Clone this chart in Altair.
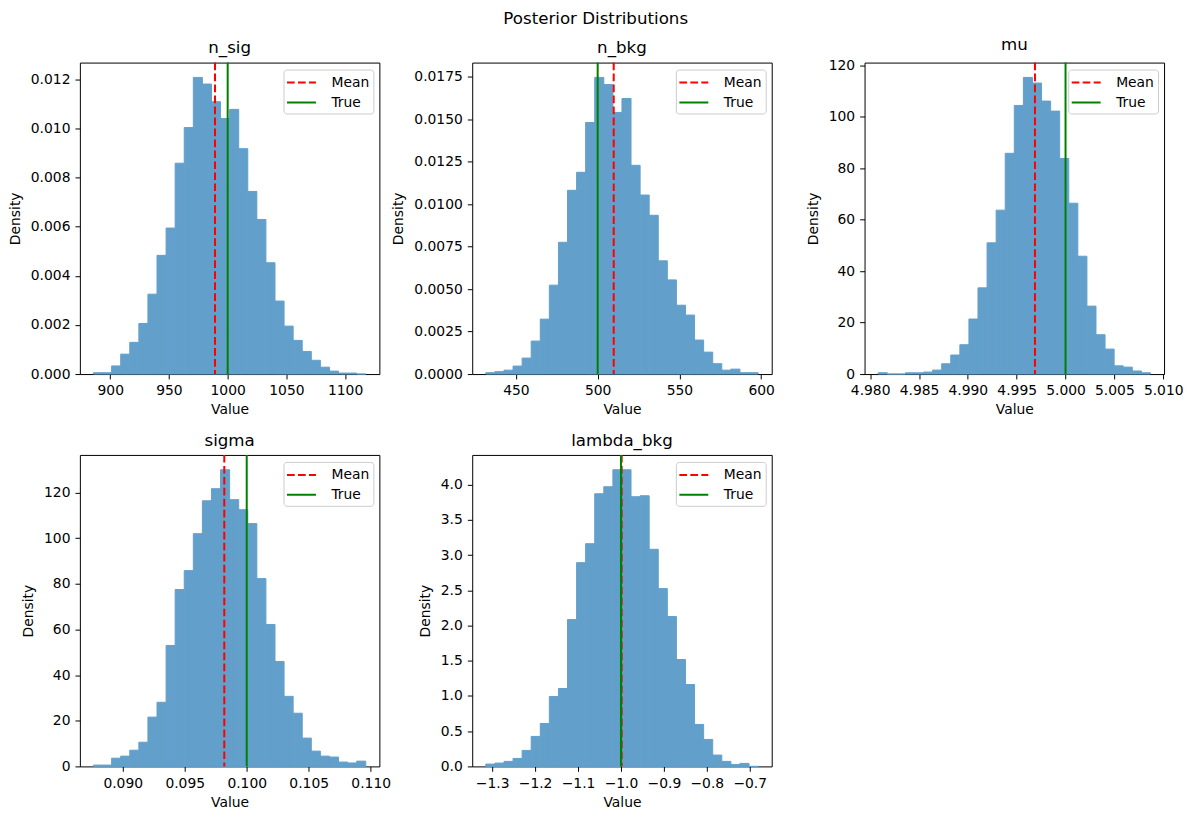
import altair as alt
import pandas as pd

FONT = "DejaVu Sans"
# tab:blue at 70% opacity over a white background
BAR_COLOR = "#62a0cb"

# ---- posterior samples, histogrammed into 30 bins (density) ----
# each parameter: first bin edge, bin width, bin densities, mean, true value

n_sig_start, n_sig_width = 885.7, 7.73
n_sig_density = [0.000054, 0.000054, 0.00033, 0.00081, 0.00129, 0.00206,
                 0.00325, 0.00483, 0.00594, 0.00858, 0.01003, 0.01207,
                 0.0118, 0.01108, 0.0104, 0.01077, 0.00917, 0.00743,
                 0.00629, 0.00453, 0.00297, 0.00195, 0.00137, 0.00092,
                 0.00056, 0.00028, 0.00012, 0.00004, 0.00004, 0.0]
n_sig_mean, n_sig_true = 989.2, 1000.0

n_bkg_start, n_bkg_width = 431.6, 5.55
n_bkg_density = [0.00008, 0.00014, 0.00023, 0.00047, 0.00094, 0.00194,
                 0.00323, 0.00523, 0.00775, 0.01081, 0.01187, 0.0148,
                 0.01745, 0.01703, 0.01539, 0.01621, 0.01228, 0.01053,
                 0.00934, 0.00666, 0.00554, 0.00405, 0.00347, 0.002,
                 0.00129, 0.00061, 0.00023, 0.00029, 0.00008, 0.00008]
n_bkg_mean, n_bkg_true = 509.8, 500.0

mu_start, mu_width = 4.98082, 0.000929
mu_density = [0.52, 0.0, 0.0, 0.5, 0.5, 0.78, 1.55, 4.0, 7.4, 11.4,
              21.4, 33.5, 51.0, 63.7, 85.8, 104.4, 115.3, 113.1, 106.1, 102.2,
              83.8, 66.4, 45.8, 26.4, 15.3, 9.7, 3.2, 2.7, 1.2, 0.5]
mu_mean, mu_true = 4.99687, 5.0

sigma_start, sigma_width = 0.08764, 0.000732
sigma_density = [0.58, 0.58, 3.6, 4.5, 7.1, 10.6, 21.6, 28.1, 53.0, 77.5,
                 85.8, 102.0, 116.4, 121.7, 130.0, 116.9, 112.5, 106.4, 82.3, 62.2,
                 46.0, 30.7, 23.3, 12.4, 6.7, 4.5, 4.1, 1.9, 1.5, 2.3]
sigma_mean, sigma_true = 0.09819, 0.1

lambda_start, lambda_width = -1.3148, 0.02114
lambda_density = [0.033, 0.047, 0.071, 0.113, 0.227, 0.426, 0.610, 0.993, 1.106, 2.085,
                  2.894, 3.163, 3.872, 3.972, 4.213, 4.213, 3.830, 3.844, 3.083, 2.525,
                  2.128, 1.518, 1.163, 0.596, 0.383, 0.161, 0.071, 0.028, 0.043, 0.0]
lambda_mean, lambda_true = -0.9984, -1.0

# ---- axis ticks ----
n_sig_xticks = [900, 950, 1000, 1050, 1100]
n_sig_yticks = [0.0, 0.002, 0.004, 0.006, 0.008, 0.010, 0.012]
n_bkg_xticks = [450, 500, 550, 600]
n_bkg_yticks = [0.0, 0.0025, 0.005, 0.0075, 0.01, 0.0125, 0.015, 0.0175]
mu_xticks = [4.980, 4.985, 4.990, 4.995, 5.000, 5.005, 5.010]
mu_yticks = [0, 20, 40, 60, 80, 100, 120]
sigma_xticks = [0.090, 0.095, 0.100, 0.105, 0.110]
sigma_yticks = [0, 20, 40, 60, 80, 100, 120]
lambda_xticks = [-1.3, -1.2, -1.1, -1.0, -0.9, -0.8, -0.7]
lambda_yticks = [0.0, 0.5, 1.0, 1.5, 2.0, 2.5, 3.0, 3.5, 4.0]

params = [
    ("n_sig", n_sig_start, n_sig_width, n_sig_density, n_sig_mean, n_sig_true,
     n_sig_xticks, "d", n_sig_yticks, ".3f"),
    ("n_bkg", n_bkg_start, n_bkg_width, n_bkg_density, n_bkg_mean, n_bkg_true,
     n_bkg_xticks, "d", n_bkg_yticks, ".4f"),
    ("mu", mu_start, mu_width, mu_density, mu_mean, mu_true,
     mu_xticks, ".3f", mu_yticks, "d"),
    ("sigma", sigma_start, sigma_width, sigma_density, sigma_mean, sigma_true,
     sigma_xticks, ".3f", sigma_yticks, "d"),
    ("lambda_bkg", lambda_start, lambda_width, lambda_density, lambda_mean, lambda_true,
     lambda_xticks, ".1f", lambda_yticks, ".1f"),
]


def posterior_panel(name, start, width, density, mean, true,
                    xticks, xfmt, yticks, yfmt):
    n = len(density)
    lo = [start + i * width for i in range(n)]
    hi = [start + (i + 1) * width for i in range(n)]
    bins = pd.DataFrame({"lo": lo, "hi": hi, "density": density})
    marks = pd.DataFrame({"label": ["Mean", "True"], "value": [mean, true]})

    span = hi[-1] - lo[0]
    x_scale = alt.Scale(domain=[lo[0] - 0.05 * span, hi[-1] + 0.05 * span],
                        nice=False, zero=False)
    y_scale = alt.Scale(domain=[0, 1.05 * max(density)], nice=False)

    hist = alt.Chart(bins).mark_rect(
        fill=BAR_COLOR, stroke=BAR_COLOR, strokeWidth=1
    ).encode(
        x=alt.X("lo:Q", scale=x_scale,
                axis=alt.Axis(values=xticks, format=xfmt, title="Value")),
        x2="hi:Q",
        y=alt.Y("density:Q", scale=y_scale,
                axis=alt.Axis(values=yticks, format=yfmt, title="Density")),
        y2=alt.datum(0),
    )

    legend = alt.Legend(title=None, orient="top-right")
    lines = alt.Chart(marks).mark_rule(strokeWidth=2).encode(
        x=alt.X("value:Q", scale=x_scale),
        color=alt.Color("label:N", legend=legend,
                        scale=alt.Scale(domain=["Mean", "True"],
                                        range=["#ff0000", "#008000"])),
        strokeDash=alt.StrokeDash("label:N", legend=legend,
                                  scale=alt.Scale(domain=["Mean", "True"],
                                                  range=[[7.7, 3.3], [1, 0]])),
    )

    return alt.layer(hist, lines).properties(
        width=300, height=312,
        title=alt.TitleParams(name, anchor="middle", fontSize=16.7,
                              font=FONT, fontWeight="normal", color="black",
                              offset=4.5),
    )


panels = [posterior_panel(*p) for p in params]

chart = alt.concat(
    *panels,
    columns=3,
    spacing={"row": 81, "column": 93},
    bounds="flush",
    title=alt.TitleParams("Posterior Distributions", anchor="middle",
                          fontSize=16.7, font=FONT, fontWeight="normal",
                          color="black", offset=8.5),
).resolve_scale(
    x="independent", y="independent",
    color="independent", strokeDash="independent",
).properties(
    padding={"left": 7, "top": 10, "right": 10, "bottom": 8},
    background="white",
).configure(
    font=FONT,
).configure_view(
    stroke="black", strokeWidth=1,
).configure_axis(
    labelFont=FONT, labelFontSize=13.9, labelColor="black",
    titleFont=FONT, titleFontSize=13.9, titleFontWeight="normal", titleColor="black",
    tickColor="black", tickSize=4.9, tickWidth=1,
    domain=False, grid=False, labelPadding=5,
    labelFlush=False, labelOverlap=False, labelBound=False,
).configure_axisX(
    titlePadding=5,
).configure_axisY(
    titlePadding=8,
).configure_legend(
    # a 29px horizontal line sample for each entry
    symbolType="M-1.706,0H1.706", symbolSize=289, symbolStrokeWidth=2, symbolOffset=5,
    labelFont=FONT, labelFontSize=13.9, labelColor="black", labelOffset=20.5,
    fillColor="rgba(255,255,255,0.8)", strokeColor="#cccccc", cornerRadius=3,
    padding=3.5, offset=6.5, rowPadding=3,
)

chart.save("out.html", embed_options={"renderer": "svg", "actions": False})
